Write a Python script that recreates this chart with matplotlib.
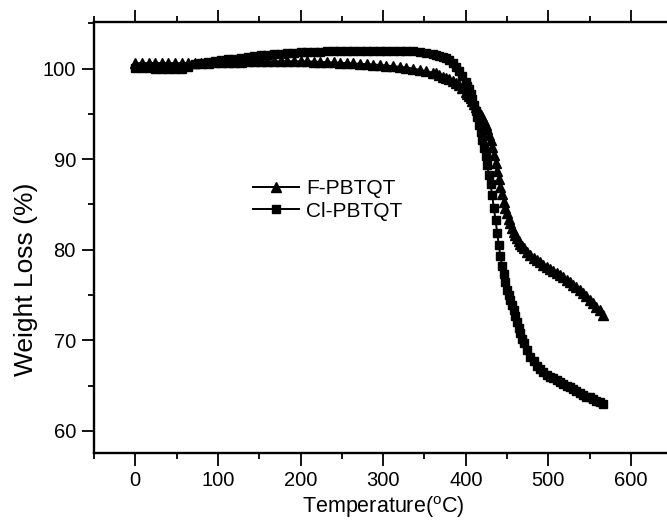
import matplotlib
matplotlib.use("Agg")
import matplotlib.pyplot as plt
from matplotlib.ticker import MultipleLocator

plt.rcParams['font.family'] = ['Liberation Sans', 'DejaVu Sans']

# Temperature samples (deg C)
temp = [0, 8, 16, 24, 32, 40, 48, 56, 64, 72, 80, 88, 96, 104, 112, 120, 128, 136, 144, 152,
        160, 168, 176, 184, 192, 200, 208, 216, 224, 232, 240, 248, 256, 264, 272, 280, 288, 296,
        304, 312, 320, 328, 336, 344, 352, 360,
        364, 368, 372, 376, 380, 384, 388, 392, 396, 400,
        402, 404, 406, 408, 410, 412, 414, 416, 418, 420, 422, 424, 426, 428, 430, 432, 434, 436,
        438, 440, 442, 444, 446, 448, 450, 452, 454, 456, 458, 460, 462, 464, 466, 468, 470,
        474, 478, 482, 486, 490, 494, 498, 502, 506, 510, 514, 518, 522, 526, 530, 534, 538, 542,
        546, 550, 554, 558, 562, 566]

# F-PBTQT (triangles)
f_pbtqt = [100.6, 100.6, 100.6, 100.6, 100.6, 100.6, 100.6, 100.6, 100.6, 100.6, 100.62, 100.65,
           100.68, 100.7, 100.72, 100.74, 100.76, 100.78, 100.8, 100.8, 100.8, 100.8, 100.8, 100.8,
           100.8, 100.8, 100.78, 100.76, 100.73, 100.7, 100.67, 100.63, 100.6, 100.56, 100.52,
           100.48, 100.44, 100.4, 100.33, 100.26, 100.19, 100.1, 100.0, 99.85, 99.7, 99.55,
           99.45, 99.3, 99.1, 98.95, 98.8, 98.6, 98.4, 98.15, 97.85, 97.45,
           97.2, 96.95, 96.7, 96.4, 96.1, 95.8, 95.5, 95.2, 94.9, 94.6, 94.2, 93.8, 93.3, 92.7,
           92.1, 91.3, 90.5, 89.6, 88.7, 87.8, 86.9, 86.1, 85.3, 84.6, 84.0, 83.4, 82.9, 82.4,
           82.0, 81.6, 81.25, 80.95, 80.65, 80.4, 80.15,
           79.75, 79.4, 79.1, 78.85, 78.6, 78.35, 78.1, 77.9, 77.7, 77.45, 77.2, 76.95, 76.7,
           76.45, 76.15, 75.85, 75.55, 75.2, 74.85, 74.5, 74.1, 73.7, 73.3, 72.8]

# Cl-PBTQT (squares)
cl_pbtqt = [100.1, 100.1, 100.05, 100.0, 100.0, 99.95, 99.95, 100.0, 100.2, 100.45, 100.6, 100.7,
            100.8, 100.9, 101.0, 101.1, 101.2, 101.3, 101.35, 101.45, 101.5, 101.6, 101.65, 101.7,
            101.75, 101.8, 101.82, 101.85, 101.87, 101.9, 101.9, 101.9, 101.9, 101.9, 101.9,
            101.9, 101.9, 101.9, 101.9, 101.9, 101.9, 101.9, 101.9, 101.85, 101.75, 101.6,
            101.5, 101.4, 101.3, 101.2, 100.9, 100.6, 100.2, 99.7, 99.2, 98.5,
            98.1, 97.7, 97.2, 96.6, 96.0, 95.3, 94.6, 93.8, 93.0, 92.1, 91.2, 90.3, 89.3, 88.3,
            87.2, 86.0, 84.6, 83.3, 81.9, 80.5, 79.3, 78.2, 77.3, 76.4, 75.6, 75.0, 74.4, 73.9,
            73.3, 72.7, 72.0, 71.4, 70.8, 70.2, 69.7,
            68.9, 68.2, 67.7, 67.2, 66.8, 66.5, 66.2, 66.0, 65.8, 65.6, 65.4, 65.2, 65.0, 64.8,
            64.6, 64.4, 64.2, 64.0, 63.8, 63.7, 63.5, 63.3, 63.2, 63.0]

x_ticks = [0, 100, 200, 300, 400, 500, 600]
y_ticks = [60, 70, 80, 90, 100]

fig = plt.figure(figsize=(6.67, 5.26), dpi=100)
ax = fig.add_axes([94 / 667, 1 - 452.7 / 526, (672.3 - 94) / 667, (452.7 - 22.3) / 526])

ax.plot(temp, f_pbtqt, color='black', lw=1.4, marker='^', ms=7, label='F-PBTQT')
ax.plot(temp, cl_pbtqt, color='black', lw=1.4, marker='s', ms=5.6, label='Cl-PBTQT')

ax.set_xlim(-50, 650)
ax.set_ylim(57.6, 105.1)
ax.set_xticks(x_ticks)
ax.set_yticks(y_ticks)
ax.xaxis.set_minor_locator(MultipleLocator(50))
ax.yaxis.set_minor_locator(MultipleLocator(5))
ax.tick_params(which='both', direction='out', top=True, right=True, width=1.3,
               labelsize=14.5, pad=4)
ax.tick_params(which='major', length=9)
ax.tick_params(which='minor', length=4.5)
for s in ax.spines.values():
    s.set_linewidth(1.7)

ax.set_xlabel('Temperature($\\mathregular{^o}$C)', fontsize=15.5)
ax.set_ylabel('Weight Loss (%)', fontsize=19)
ax.xaxis.set_label_coords(0.5, (452.7 - 494) / 430.4)
ax.yaxis.set_label_coords((38 - 94) / 578.3, (452.7 - 279) / 430.4)

leg = fig.legend(loc='center left', bbox_to_anchor=(253 / 667, 1 - 200 / 526), frameon=False,
                 fontsize=15, handlelength=2.2, handletextpad=0.35, labelspacing=0.15,
                 borderpad=0, borderaxespad=0)

fig.savefig('out.png', dpi=100)
